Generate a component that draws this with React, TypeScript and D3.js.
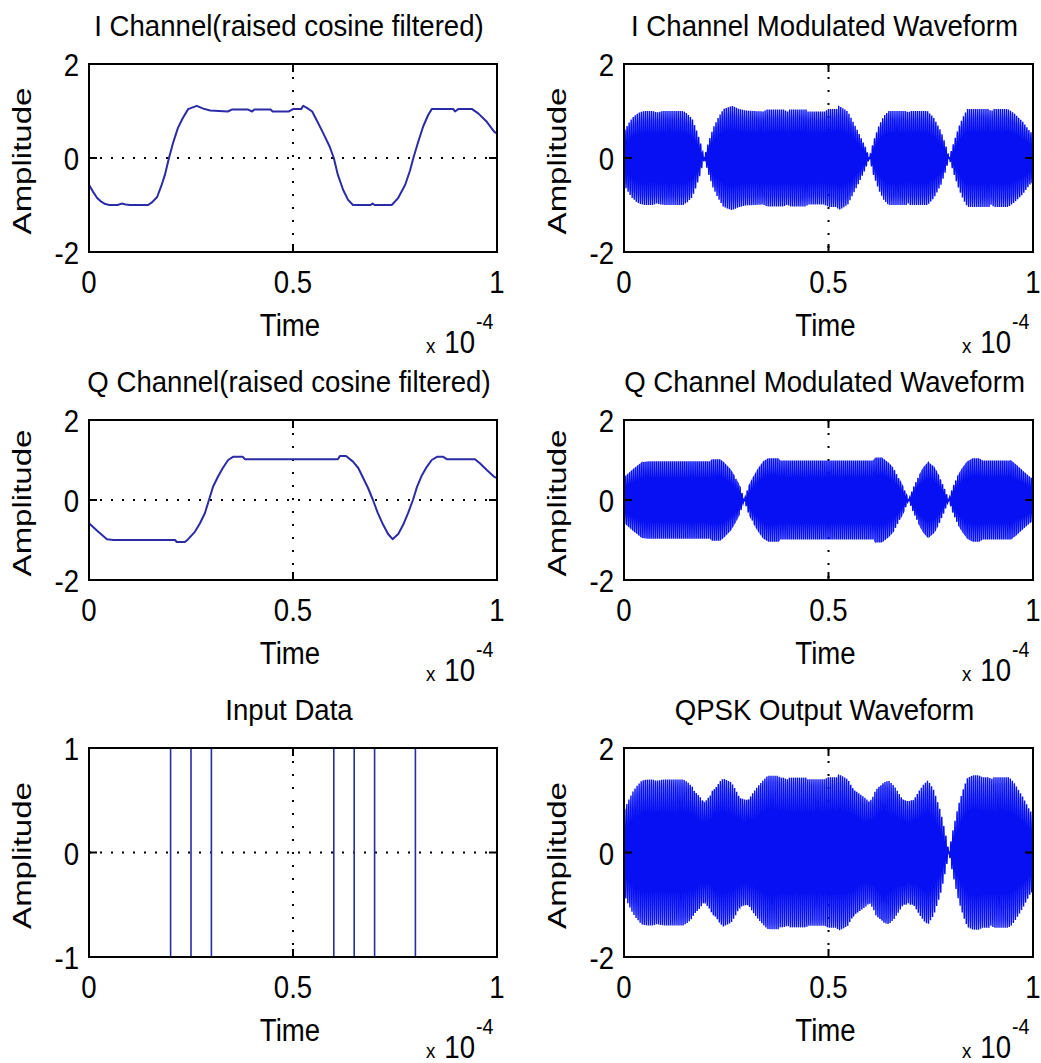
import React from 'react';
import * as d3 from 'd3';

// ---------------- data (time in units of 1e-4 s) ----------------
const X_TICKS = [0, 0.5, 1];
const X_TICK_LABELS = ['0', '0.5', '1'];
const Y_TICKS_WAVE = [-2, 0, 2];
const Y_TICK_LABELS_WAVE = ['-2', '0', '2'];
const Y_TICKS_DATA = [-1, 0, 1];
const Y_TICK_LABELS_DATA = ['-1', '0', '1'];

const PANEL_TITLES = [
  'I Channel(raised cosine filtered)',
  'I Channel Modulated Waveform',
  'Q Channel(raised cosine filtered)',
  'Q Channel Modulated Waveform',
  'Input Data',
  'QPSK Output Waveform',
];
const X_LABEL = 'Time';
const Y_LABEL = 'Amplitude';
const EXP_X = 'x';
const EXP_BASE = '10';
const EXP_POWER = '-4';

const I_TIME = [0, 0.01, 0.02, 0.03, 0.04, 0.05, 0.07, 0.08, 0.09, 0.1, 0.145, 0.155, 0.167, 0.177, 0.186, 0.196, 0.206, 0.218, 0.23, 0.243, 0.264, 0.28, 0.297, 0.34, 0.35, 0.39, 0.4, 0.405, 0.445, 0.45, 0.49, 0.5, 0.52, 0.525, 0.535, 0.547, 0.56, 0.574, 0.59, 0.6, 0.61, 0.623, 0.635, 0.647, 0.69, 0.695, 0.7, 0.742, 0.757, 0.775, 0.787, 0.795, 0.806, 0.819, 0.831, 0.84, 0.893, 0.897, 0.905, 0.939, 0.954, 0.975, 0.993, 1.0];
const I_VALUE = [-0.57, -0.72, -0.85, -0.93, -0.98, -1, -1, -0.97, -0.99, -1, -1, -0.94, -0.83, -0.6, -0.36, 0, 0.32, 0.64, 0.85, 1.04, 1.11, 1.05, 1.01, 0.99, 1.03, 1.03, 0.99, 1.03, 1.03, 0.99, 0.99, 1.04, 1.04, 1.11, 1.06, 0.99, 0.77, 0.53, 0.24, 0, -0.36, -0.68, -0.89, -1, -1, -0.97, -1, -1, -0.86, -0.57, -0.26, 0, 0.32, 0.67, 0.91, 1.04, 1.04, 0.99, 1.04, 1.04, 0.95, 0.77, 0.56, 0.52];

const Q_TIME = [0, 0.022, 0.044, 0.06, 0.211, 0.215, 0.235, 0.243, 0.26, 0.272, 0.284, 0.294, 0.304, 0.316, 0.328, 0.341, 0.353, 0.377, 0.382, 0.61, 0.615, 0.63, 0.647, 0.66, 0.672, 0.684, 0.696, 0.708, 0.721, 0.733, 0.744, 0.758, 0.77, 0.782, 0.794, 0.804, 0.816, 0.828, 0.84, 0.853, 0.868, 0.877, 0.946, 0.958, 0.975, 0.993, 1.0];
const Q_VALUE = [-0.58, -0.79, -0.98, -1, -1, -1.05, -1.05, -0.98, -0.79, -0.58, -0.33, 0, 0.33, 0.58, 0.8, 1.0, 1.08, 1.08, 1.02, 1.02, 1.1, 1.1, 0.96, 0.8, 0.55, 0.3, 0, -0.33, -0.62, -0.85, -0.98, -0.85, -0.62, -0.33, 0, 0.33, 0.62, 0.83, 1.0, 1.08, 1.08, 1.02, 1.02, 0.92, 0.75, 0.58, 0.55];

const INPUT_BITS = [-1, -1, -1, -1, 1, -1, 1, 1, 1, 1, 1, 1, -1, 1, -1, -1, 1, 1, 1, 1];
const BIT_DURATION = 0.05;

const CARRIER_CYCLES = 200; // carrier cycles over the 1e-4 s window
const SAMPLES_PER_CYCLE = 10;

// ---------------- layout ----------------
const FONT = "'Liberation Sans', Arial, Helvetica, sans-serif";
const COLS = [{ x0: 89, x1: 497 }, { x0: 624, x1: 1033 }];
const ROWS = [{ y0: 64, y1: 252 }, { y0: 420, y1: 580 }, { y0: 748, y1: 957 }];
const SX = 0.89;
const THIN_BLUE = '#2b2ba6';
const DENSE_BLUE = '#0610f2';

function HText({ x, y, size, anchor = 'middle', sx = SX, children }: any) {
  return (
    <text
      transform={`translate(${x},${y}) scale(${sx},1)`}
      fontSize={size}
      textAnchor={anchor}
      fontFamily={FONT}
      fill="#000"
    >
      {children}
    </text>
  );
}

function Panel({ col, row, title, yTicks, yLabels, render }: any) {
  const { x0, x1 } = COLS[col];
  const { y0, y1 } = ROWS[row];
  const xs = d3.scaleLinear().domain([X_TICKS[0], X_TICKS[X_TICKS.length - 1]]).range([x0, x1]);
  const ys = d3.scaleLinear().domain([yTicks[0], yTicks[yTicks.length - 1]]).range([y1, y0]);
  const xc = (x0 + x1) / 2;
  const yc = (y0 + y1) / 2;
  const tickLen = 8;
  const innerX = X_TICKS.slice(1, -1);
  const innerY = yTicks.slice(1, -1);
  return (
    <g>
      {innerX.map((t: number) => (
        <line key={'gx' + t} x1={xs(t)} x2={xs(t)} y1={y0} y2={y1} stroke="#000" strokeWidth={2} strokeDasharray="2 11" />
      ))}
      {innerY.map((t: number) => (
        <line key={'gy' + t} x1={x0} x2={x1} y1={ys(t)} y2={ys(t)} stroke="#000" strokeWidth={2} strokeDasharray="2 9" />
      ))}
      <g>{render(xs, ys)}</g>
      {innerX.map((t: number) => (
        <g key={'tx' + t}>
          <line x1={xs(t)} x2={xs(t)} y1={y1} y2={y1 - tickLen} stroke="#000" strokeWidth={2} />
          <line x1={xs(t)} x2={xs(t)} y1={y0} y2={y0 + tickLen} stroke="#000" strokeWidth={2} />
        </g>
      ))}
      {innerY.map((t: number) => (
        <g key={'ty' + t}>
          <line x1={x0} x2={x0 + tickLen} y1={ys(t)} y2={ys(t)} stroke="#000" strokeWidth={2} />
          <line x1={x1} x2={x1 - tickLen} y1={ys(t)} y2={ys(t)} stroke="#000" strokeWidth={2} />
        </g>
      ))}
      <rect x={x0} y={y0} width={x1 - x0} height={y1 - y0} fill="none" stroke="#000" strokeWidth={2} />
      {X_TICKS.map((t, i) => (
        <HText key={'lx' + i} x={xs(t)} y={y1 + 41} size={31}>{X_TICK_LABELS[i]}</HText>
      ))}
      {yTicks.map((t: number, i: number) => (
        <HText key={'ly' + i} x={x0 - 10} y={ys(t) + 12} size={31} anchor="end">{yLabels[i]}</HText>
      ))}
      <HText x={xc - 4} y={y0 - 28} size={30} sx={0.92}>{title}</HText>
      <HText x={xc - 3} y={y1 + 84} size={31}>{X_LABEL}</HText>
      <HText x={x1 - 71} y={y1 + 101} size={21} anchor="start">{EXP_X}</HText>
      <HText x={x1 - 22} y={y1 + 101} size={31} anchor="end">{EXP_BASE}</HText>
      <HText x={x1 - 21} y={y1 + 77} size={22} anchor="start">{EXP_POWER}</HText>
      <text
        transform={`translate(${x0 - 58},${yc + 3}) rotate(-90) scale(1.27,1)`}
        fontSize={26}
        textAnchor="middle"
        fontFamily={FONT}
        fill="#000"
      >
        {Y_LABEL}
      </text>
    </g>
  );
}

export default function App() {
  const iEnv = d3.scaleLinear().domain(I_TIME).range(I_VALUE);
  const qEnv = d3.scaleLinear().domain(Q_TIME).range(Q_VALUE);
  const n = CARRIER_CYCLES * SAMPLES_PER_CYCLE;
  const tSamples = d3.range(n + 1).map((k) => k / n);
  const carrierC = (t: number) => Math.cos(2 * Math.PI * CARRIER_CYCLES * t);
  const carrierS = (t: number) => Math.sin(2 * Math.PI * CARRIER_CYCLES * t);
  const iMod = tSamples.map((t) => [t, iEnv(t) * carrierC(t)]);
  const qMod = tSamples.map((t) => [t, qEnv(t) * carrierS(t)]);
  const qpsk = tSamples.map((t) => [t, iEnv(t) * carrierC(t) - qEnv(t) * carrierS(t)]);
  const iPts = I_TIME.map((t, i) => [t, I_VALUE[i]]);
  const qPts = Q_TIME.map((t, i) => [t, Q_VALUE[i]]);

  const smooth = (pts: number[][]) => (xs: any, ys: any) => {
    const line = d3.line<number[]>().x((d) => xs(d[0])).y((d) => ys(d[1]));
    return <path d={line(pts) || ''} fill="none" stroke={THIN_BLUE} strokeWidth={2} strokeLinejoin="round" />;
  };
  const dense = (pts: number[][]) => (xs: any, ys: any) => {
    const line = d3.line<number[]>().x((d) => xs(d[0])).y((d) => ys(d[1]));
    return <path d={line(pts) || ''} fill="none" stroke={DENSE_BLUE} strokeWidth={1.4} />;
  };
  const stairs = (xs: any, ys: any) => {
    const pts: number[][] = [];
    INPUT_BITS.forEach((b, i) => {
      pts.push([i * BIT_DURATION, b]);
      pts.push([(i + 1) * BIT_DURATION, b]);
    });
    const line = d3.line<number[]>().x((d) => xs(d[0])).y((d) => ys(d[1]));
    return <path d={line(pts) || ''} fill="none" stroke={THIN_BLUE} strokeWidth={1.6} />;
  };

  return (
    <svg
      width={1041}
      height={1063}
      style={{ position: 'absolute', left: 0, top: 0, background: '#fff' }}
    >
      <rect x={0} y={0} width={1041} height={1063} fill="#fff" />
      <Panel col={0} row={0} title={PANEL_TITLES[0]} yTicks={Y_TICKS_WAVE} yLabels={Y_TICK_LABELS_WAVE} render={smooth(iPts)} />
      <Panel col={1} row={0} title={PANEL_TITLES[1]} yTicks={Y_TICKS_WAVE} yLabels={Y_TICK_LABELS_WAVE} render={dense(iMod)} />
      <Panel col={0} row={1} title={PANEL_TITLES[2]} yTicks={Y_TICKS_WAVE} yLabels={Y_TICK_LABELS_WAVE} render={smooth(qPts)} />
      <Panel col={1} row={1} title={PANEL_TITLES[3]} yTicks={Y_TICKS_WAVE} yLabels={Y_TICK_LABELS_WAVE} render={dense(qMod)} />
      <Panel col={0} row={2} title={PANEL_TITLES[4]} yTicks={Y_TICKS_DATA} yLabels={Y_TICK_LABELS_DATA} render={stairs} />
      <Panel col={1} row={2} title={PANEL_TITLES[5]} yTicks={Y_TICKS_WAVE} yLabels={Y_TICK_LABELS_WAVE} render={dense(qpsk)} />
    </svg>
  );
}
